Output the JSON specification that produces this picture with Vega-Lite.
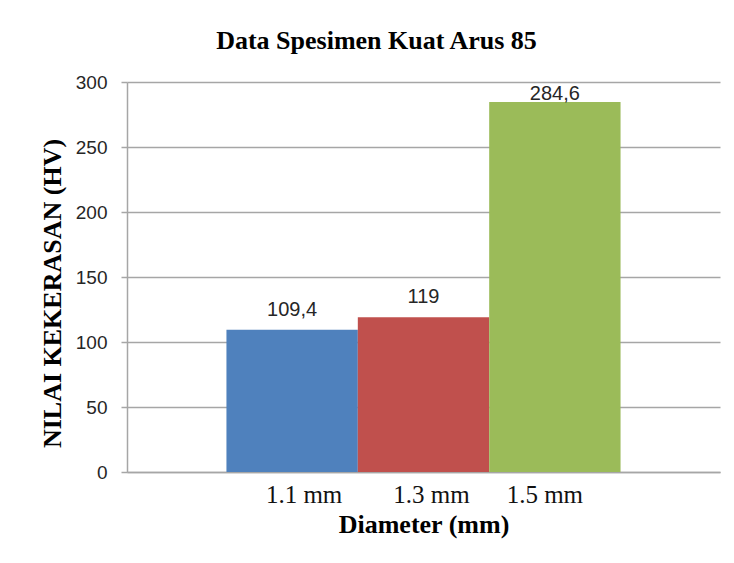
{
  "$schema": "https://vega.github.io/schema/vega-lite/v6.json",
  "width": 593,
  "height": 390,
  "autosize": {"type": "none"},
  "padding": {"left": 127, "top": 82, "right": 14, "bottom": 91},
  "background": "white",
  "title": {
    "text": "Data Spesimen Kuat Arus 85",
    "font": "Liberation Serif",
    "fontSize": 26,
    "fontWeight": "bold",
    "color": "black",
    "anchor": "middle",
    "frame": "group",
    "dx": -47,
    "dy": 26,
    "baseline": "alphabetic",
    "offset": 24
  },
  "config": {
    "locale": {"number": {"decimal": ",", "thousands": ".", "grouping": [3], "currency": ["", ""]}},
    "view": {"stroke": null}
  },
  "data": {
    "values": [
      {"diameter": "1.1 mm", "value": 109.4},
      {"diameter": "1.3 mm", "value": 119},
      {"diameter": "1.5 mm", "value": 284.6}
    ]
  },
  "encoding": {
    "x": {
      "field": "diameter",
      "type": "nominal",
      "sort": null,
      "scale": {"paddingInner": 0, "paddingOuter": 0.757},
      "axis": {
        "title": "Diameter (mm)",
        "labelAngle": 0,
        "ticks": false,
        "tickSize": 0,
        "domainColor": "#a6a6a6",
        "domainWidth": 1.5,
        "labelFont": "Liberation Serif",
        "labelFontSize": 25,
        "labelColor": "#111",
        "labelBaseline": "alphabetic",
        "labelPadding": 30,
        "labelOffset": {"expr": "datum.label == '1.1 mm' ? 12 : datum.label == '1.3 mm' ? 8 : -10"},
        "titleFont": "Liberation Serif",
        "titleFontSize": 26,
        "titleFontWeight": "bold",
        "titleColor": "black",
        "titleBaseline": "alphabetic",
        "titleY": 60
      }
    },
    "y": {
      "field": "value",
      "type": "quantitative",
      "scale": {"domain": [0, 300], "nice": false},
      "axis": {
        "values": [0, 50, 100, 150, 200, 250, 300],
        "title": "NILAI KEKERASAN (HV)",
        "grid": true,
        "gridColor": "#a6a6a6",
        "gridWidth": 1.5,
        "domainColor": "#a6a6a6",
        "domainWidth": 1.5,
        "tickColor": "#a6a6a6",
        "tickWidth": 1.5,
        "tickSize": 6,
        "labelPadding": 14,
        "labelFont": "Liberation Sans",
        "labelFontSize": 19,
        "labelColor": "#262626",
        "titleFont": "Liberation Serif",
        "titleFontSize": 26,
        "titleFontWeight": "bold",
        "titleColor": "black",
        "titleBaseline": "alphabetic",
        "titleX": -67,
        "titleY": 211
      }
    }
  },
  "layer": [
    {
      "mark": {"type": "bar"},
      "encoding": {
        "color": {
          "field": "diameter",
          "type": "nominal",
          "sort": null,
          "scale": {"range": ["#4F81BD", "#C0504D", "#9BBB59"]},
          "legend": null
        }
      }
    },
    {
      "transform": [{"filter": "datum.value <= 270"}],
      "mark": {
        "type": "text",
        "font": "Liberation Sans",
        "fontSize": 20,
        "color": "#262626",
        "baseline": "alphabetic",
        "dy": -14
      },
      "encoding": {
        "text": {"field": "value", "type": "quantitative", "format": ".1~f"}
      }
    },
    {
      "transform": [{"filter": "datum.value > 270"}],
      "mark": {
        "type": "text",
        "font": "Liberation Sans",
        "fontSize": 20,
        "color": "#262626",
        "baseline": "alphabetic",
        "dy": -2
      },
      "encoding": {
        "text": {"field": "value", "type": "quantitative", "format": ".1~f"}
      }
    }
  ]
}
